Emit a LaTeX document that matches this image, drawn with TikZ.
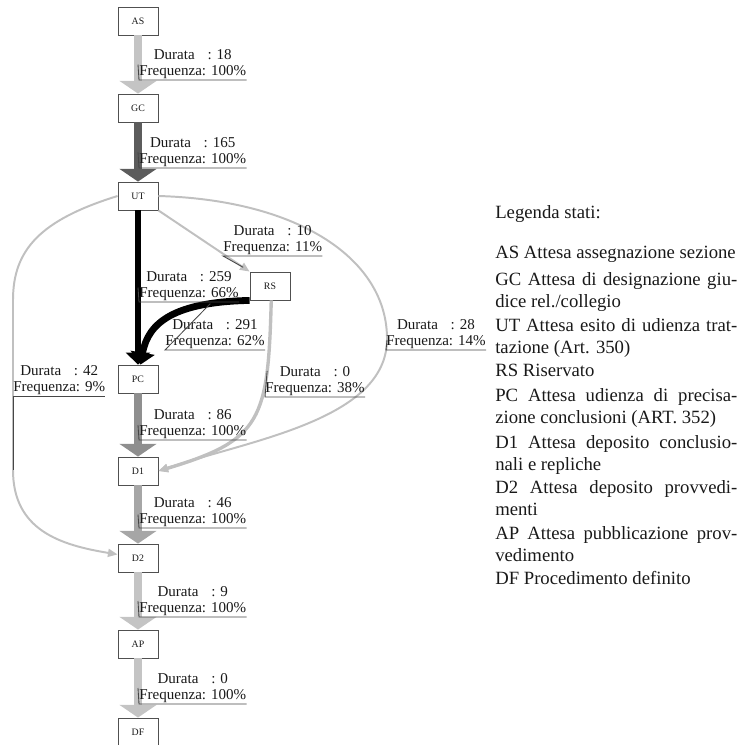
\documentclass[tikz,border=0pt]{standalone}
\usepackage{fontspec}
\setmainfont{Liberation Serif}
\usetikzlibrary{arrows.meta}
\definecolor{edgelight}{RGB}{196,196,196}
\definecolor{edgedark}{RGB}{92,92,92}
\definecolor{edgemid}{RGB}{143,143,143}
\definecolor{edgesoft}{RGB}{166,166,166}
\definecolor{edgethin}{RGB}{192,192,192}
\definecolor{decogray}{RGB}{70,70,70}
\definecolor{boxgray}{RGB}{80,80,80}
\definecolor{textgray}{RGB}{25,25,25}
\newcommand{\jline}[1]{\makebox[6.05cm][s]{#1}}
\tikzset{
  stato/.style={draw=boxgray, line width=0.6pt, fill=white, minimum width=1cm, minimum height=0.7cm, inner sep=0pt, text=textgray, font=\fontsize{7}{8}\selectfont},
  etichetta/.style={anchor=south west, align=center, inner xsep=0pt, inner ysep=0.6pt, text=textgray, font=\fontsize{10.7}{11.7}\selectfont},
  sottolinea/.style={draw=decogray, line width=0.6pt},
  grosso/.style={line width=0.175cm, -{Triangle[width=0.92cm,length=0.32cm]}},
  nero/.style={draw=black, line width=0.17cm, -{Triangle[width=0.6cm,length=0.3cm]}},
  sottile/.style={draw=edgethin, line width=1.4pt, -{Triangle[width=0.2cm,length=0.24cm]}},
  legenda/.style={anchor=base west, align=left, inner sep=0pt, text=textgray, font=\fontsize{13.3}{15.6}\selectfont}
}
\begin{document}
\begin{tikzpicture}[x=0.025cm,y=-0.025cm]
\useasboundingbox (0,0) rectangle (739,745);
\node[stato] (AS) at (138,21) {AS};
\node[stato] (GC) at (138,108) {GC};
\node[stato] (UT) at (138,196) {UT};
\node[stato] (RS) at (270,286) {RS};
\node[stato] (PC) at (138,379) {PC};
\node[stato] (D1) at (138,471) {D1};
\node[stato] (D2) at (138,558) {D2};
\node[stato] (AP) at (138,644) {AP};
\node[stato] (DF) at (138,732) {DF};

\draw[grosso, edgelight] (AS) -- coordinate[midway] (mASGC) (GC);
\draw[grosso, edgedark] (GC) -- coordinate[midway] (mGCUT) (UT);
\draw[nero] (UT) -- coordinate[midway] (mUTPC) (PC);
\draw[nero] (RS.south west) .. controls (175,302) and (148,322) .. coordinate[pos=0.2] (mRSPC) (PC.80);
\draw[grosso, edgemid] (PC) -- coordinate[midway] (mPCD1) (D1);
\draw[grosso, edgesoft] (D1) -- coordinate[midway] (mD1D2) (D2);
\draw[grosso, edgelight] (D2) -- coordinate[midway] (mD2AP) (AP);
\draw[grosso, edgelight] (AP) -- coordinate[midway] (mAPDF) (DF);
\draw[sottile] (UT.south east) -- coordinate[pos=0.93] (mUTRS) (RS.north west);
\draw[sottile] (UT.east) .. controls (300,200) and (388,260) .. (387,340) coordinate (mUTD1)
  .. controls (386,420) and (250,440) .. (D1.east);
\draw[sottile, line width=2.4pt] (RS.-85) .. controls (268,420) and (262,440) .. coordinate[pos=0.24] (mRSD1) (D1.east);
\draw[sottile] (UT.west) .. controls (40,220) and (13,250) .. (13,300) -- (13,470) coordinate (mUTD2)
  .. controls (13,530) and (60,545) .. (D2.170);

\node[etichetta] (lASGC) at (139,80) {Durata\hspace{0.85em}: 18\\Frequenza: 100\%};
\node[etichetta] (lGCUT) at (139,168) {Durata\hspace{0.85em}: 165\\Frequenza: 100\%};
\node[etichetta] (lUTRS) at (223,256) {Durata\hspace{0.85em}: 10\\Frequenza: 11\%};
\node[etichetta] (lUTPC) at (139,302) {Durata\hspace{0.85em}: 259\\Frequenza: 66\%};
\node[etichetta] (lRSPC) at (165,350) {Durata\hspace{0.85em}: 291\\Frequenza: 62\%};
\node[etichetta] (lUTD1) at (386,350) {Durata\hspace{0.85em}: 28\\Frequenza: 14\%};
\node[etichetta] (lUTD2) at (13,396) {Durata\hspace{0.85em}: 42\\Frequenza: 9\%};
\node[etichetta] (lRSD1) at (265,397) {Durata\hspace{0.85em}: 0\\Frequenza: 38\%};
\node[etichetta] (lPCD1) at (139,440) {Durata\hspace{0.85em}: 86\\Frequenza: 100\%};
\node[etichetta] (lD1D2) at (139,528) {Durata\hspace{0.85em}: 46\\Frequenza: 100\%};
\node[etichetta] (lD2AP) at (139,617) {Durata\hspace{0.85em}: 9\\Frequenza: 100\%};
\node[etichetta] (lAPDF) at (139,704) {Durata\hspace{0.85em}: 0\\Frequenza: 100\%};

\draw[sottolinea] (mASGC) -- (lASGC.south west) -- (lASGC.south east);
\draw[sottolinea] (mGCUT) -- (lGCUT.south west) -- (lGCUT.south east);
\draw[sottolinea] (mUTRS) -- (lUTRS.south west) -- (lUTRS.south east);
\draw[sottolinea] (mUTPC) -- (lUTPC.south west) -- (lUTPC.south east);
\draw[sottolinea] (mRSPC) -- (lRSPC.south west) -- (lRSPC.south east);
\draw[sottolinea] (mUTD1) -- (lUTD1.south west) -- (lUTD1.south east);
\draw[sottolinea] (mUTD2) -- (lUTD2.south west) -- (lUTD2.south east);
\draw[sottolinea] (mRSD1) -- (lRSD1.south west) -- (lRSD1.south east);
\draw[sottolinea] (mPCD1) -- (lPCD1.south west) -- (lPCD1.south east);
\draw[sottolinea] (mD1D2) -- (lD1D2.south west) -- (lD1D2.south east);
\draw[sottolinea] (mD2AP) -- (lD2AP.south west) -- (lD2AP.south east);
\draw[sottolinea] (mAPDF) -- (lAPDF.south west) -- (lAPDF.south east);

\node[legenda] (legtit) at (495,218) {Legenda stati:};
\node[legenda] (legAS) at (495,258) {AS Attesa assegnazione sezione};
\node[legenda] (legGC) at (495,307) {\jline{GC Attesa di designazione giu-}\\dice rel./collegio};
\node[legenda] (legUT) at (495,353) {\jline{UT Attesa esito di udienza trat-}\\tazione (Art. 350)};
\node[legenda] (legRS) at (495,376) {RS Riservato};
\node[legenda] (legPC) at (495,423) {\jline{PC Attesa udienza di precisa-}\\zione conclusioni (ART. 352)};
\node[legenda] (legD1) at (495,470) {\jline{D1 Attesa deposito conclusio-}\\nali e repliche};
\node[legenda] (legD2) at (495,515) {\jline{D2 Attesa deposito provvedi-}\\menti};
\node[legenda] (legAP) at (495,561) {\jline{AP Attesa pubblicazione prov-}\\vedimento};
\node[legenda] (legDF) at (495,584) {DF Procedimento definito};
\end{tikzpicture}
\end{document}
